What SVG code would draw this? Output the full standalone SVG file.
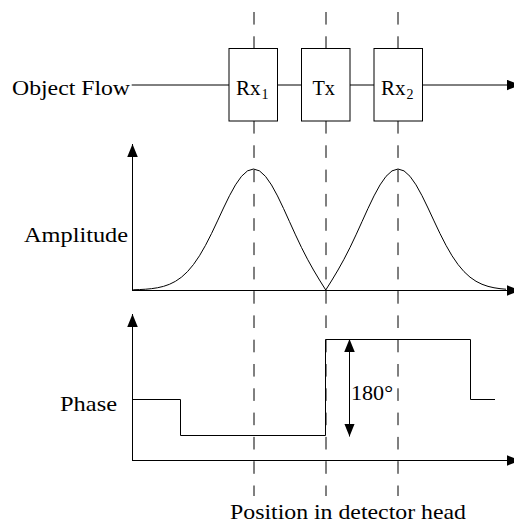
<svg xmlns="http://www.w3.org/2000/svg" width="514" height="524" viewBox="0 0 514 524">
<defs>
<marker id="ah" markerUnits="userSpaceOnUse" markerWidth="14" markerHeight="11" refX="13" refY="5.25" orient="auto-start-reverse" viewBox="0 0 14 11">
<path d="M0,0 L13,5.25 L0,10.5 Z" fill="#000"/>
</marker>
<style>
.ln{fill:none;stroke:#000;stroke-width:1}
.ax{fill:none;stroke:#000;stroke-width:1;marker-end:url(#ah)}
.dash{fill:none;stroke:#000;stroke-width:1;stroke-dasharray:12.6 11.7}
.box{fill:#fff;stroke:#000;stroke-width:1}
text{font-family:'Liberation Serif','DejaVu Serif',serif;font-size:21px;fill:#000}
.sub{font-size:14px}
</style>
</defs>
<rect width="514" height="524" fill="#fff"/>
<g id="connectors">
<line class="ax" x1="131.7" y1="85" x2="520" y2="85"/>
<g id="guides">
<line class="dash" x1="254" y1="12" x2="254" y2="48.5"/>
<line class="dash" x1="254" y1="121" x2="254" y2="496"/>
<line class="dash" x1="326" y1="12" x2="326" y2="48.5"/>
<line class="dash" x1="326" y1="121" x2="326" y2="496"/>
<line class="dash" x1="398" y1="12" x2="398" y2="48.5"/>
<line class="dash" x1="398" y1="121" x2="398" y2="496"/>
</g>
</g>
<g id="label-flow"><text x="12" y="95" textLength="118" lengthAdjust="spacingAndGlyphs">Object Flow</text></g>
<g id="Rx1"><rect class="box" x="229" y="48.5" width="48.5" height="72.5"/><text x="236" y="95">Rx<tspan class="sub" dx="1" dy="4">1</tspan></text></g>
<g id="Tx"><rect class="box" x="301.5" y="48.5" width="48.5" height="72.5"/><text x="312.5" y="95" textLength="22.5" lengthAdjust="spacingAndGlyphs">Tx</text></g>
<g id="Rx2"><rect class="box" x="374" y="48.5" width="48.5" height="72.5"/><text x="381" y="95">Rx<tspan class="sub" dx="1" dy="4">2</tspan></text></g>
<g id="amplitude-plot">
<line class="ax" x1="132.5" y1="290.5" x2="132.5" y2="144"/>
<line class="ax" x1="132" y1="290.5" x2="520" y2="290.5"/>
<polyline class="ln" stroke-linejoin="round" points="132.5,289.8 133.5,289.76 139.5,289.56 145.5,289.22 151.5,288.66 157.5,287.75 163.5,286.36 169.5,284.28 175.5,281.29 181.5,277.15 187.5,271.61 193.5,264.49 199.5,255.72 205.5,245.34 211.5,233.58 217.5,220.92 223.5,208.01 229.5,195.68 235.5,184.83 241.5,176.31 247.5,170.86 253.5,169 259.5,170.89 265.5,176.37 271.5,184.95 277.5,195.91 283.5,208.43 289.5,221.67 295.5,234.87 301.5,247.5 307.5,259.23 313.5,270.01 319.5,280.04 325.75,290 332,280.04 338,270.01 344,259.23 350,247.5 356,234.87 362,221.67 368,208.43 374,195.91 380,184.95 386,176.37 392,170.89 398,169 404,170.86 410,176.31 416,184.83 422,195.68 428,208.01 434,220.92 440,233.58 446,245.34 452,255.72 458,264.49 464,271.61 470,277.15 476,281.29 482,284.28 488,286.36 494,287.75 500,288.66 506,289.22"/>
<text x="24" y="242" textLength="104" lengthAdjust="spacingAndGlyphs">Amplitude</text>
</g>
<g id="phase-plot">
<line class="ax" x1="132.5" y1="460.5" x2="132.5" y2="314"/>
<line class="ax" x1="132" y1="460.5" x2="520" y2="460.5"/>
<path class="ln" d="M132.5,399.5 H180.5 V435.5 H325.5 V339.5 H470.5 V399.5 H495"/>
<line class="ln" x1="349.5" y1="339" x2="349.5" y2="436.5" marker-start="url(#ah)" marker-end="url(#ah)"/>
<text x="351" y="400" textLength="42" lengthAdjust="spacingAndGlyphs">180°</text>
<text x="60" y="411" textLength="57" lengthAdjust="spacingAndGlyphs">Phase</text>
</g>
<g id="label-position"><text x="230" y="519" textLength="236" lengthAdjust="spacingAndGlyphs">Position in detector head</text></g>
</svg>
